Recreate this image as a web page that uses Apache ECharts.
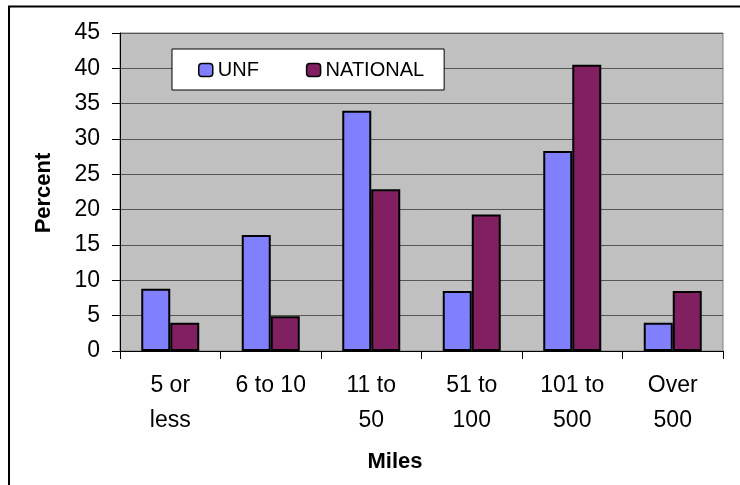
<!DOCTYPE html>
<html>
<head>
<meta charset="utf-8">
<script src="https://cdn.jsdelivr.net/npm/echarts@6/dist/echarts.min.js"></script>
<style>
html,body{margin:0;padding:0;background:#fff;}
#chart{width:740px;height:485px;}
</style>
</head>
<body>
<div id="chart"></div>
<script>
const categories = ["5 or\nless", "6 to 10", "11 to\n50", "51 to\n100", "101 to\n500", "Over\n500"];
const unfValues = [8.8, 16.4, 34.0, 8.5, 28.3, 4.0];
const nationalValues = [4.0, 4.9, 22.9, 19.3, 40.5, 8.5];
const yTicks = { min: 0, max: 45, interval: 5 };
const seriesNames = ["UNF", "NATIONAL"];
const xTitle = "Miles";
const yTitle = "Percent";

const FONT = "'Liberation Sans', Arial, sans-serif";
const chart = echarts.init(document.getElementById('chart'), null, {renderer: 'canvas'});

chart.setOption({
  animation: false,
  backgroundColor: '#ffffff',
  textStyle: { fontFamily: FONT },
  grid: {
    left: 120, right: 17, top: 33, bottom: 134,
    show: true, backgroundColor: '#c0c0c0', borderColor: '#808080', borderWidth: 1
  },
  legend: {
    left: 172, top: 49,
    padding: [11, 20, 10, 26],
    backgroundColor: '#ffffff', borderColor: '#000000', borderWidth: 1,
    itemWidth: 14, itemHeight: 13, itemGap: 47,
    textStyle: { fontFamily: FONT, fontSize: 20, color: '#000' },
    itemStyle: { borderColor: '#000', borderWidth: 1.5 },
    data: seriesNames
  },
  xAxis: {
    type: 'category',
    data: categories,
    axisLine: { show: true, lineStyle: { color: '#000', width: 1 } },
    axisTick: { show: true, length: 8, alignWithLabel: false, lineStyle: { color: '#000' } },
    axisLabel: { fontFamily: FONT, fontSize: 23, color: '#000', lineHeight: 35, margin: 17, interval: 0 },
    splitLine: { show: false }
  },
  yAxis: {
    type: 'value',
    min: yTicks.min, max: yTicks.max, interval: yTicks.interval,
    axisLine: { show: true, lineStyle: { color: '#000', width: 1 } },
    axisTick: { show: true, length: 8, lineStyle: { color: '#000' } },
    axisLabel: { fontFamily: FONT, fontSize: 23, color: '#000', margin: 20 },
    splitLine: { show: true, lineStyle: { color: '#555555', width: 1 } }
  },
  series: [
    {
      name: seriesNames[0], type: 'bar', data: unfValues,
      barWidth: 29, barGap: '0%',
      itemStyle: { color: '#8080ff', borderColor: '#000', borderWidth: 2 }
    },
    {
      name: seriesNames[1], type: 'bar', data: nationalValues,
      barWidth: 29, barGap: '0%',
      itemStyle: { color: '#802060', borderColor: '#000', borderWidth: 2 }
    }
  ],
  graphic: [
    {
      type: 'rect', silent: true, z: 100,
      shape: { x: 9, y: 6.5, width: 800, height: 600 },
      style: { fill: 'none', stroke: '#000', lineWidth: 2 }
    },
    {
      type: 'text', silent: true,
      x: 44, y: 193, rotation: Math.PI / 2,
      style: { text: yTitle, fontFamily: FONT, fontSize: 22, fontWeight: 'bold', fill: '#000', align: 'center', verticalAlign: 'middle' }
    },
    {
      type: 'text', silent: true,
      x: 395, y: 462,
      style: { text: xTitle, fontFamily: FONT, fontSize: 22, fontWeight: 'bold', fill: '#000', align: 'center', verticalAlign: 'middle' }
    }
  ]
});
</script>
</body>
</html>
